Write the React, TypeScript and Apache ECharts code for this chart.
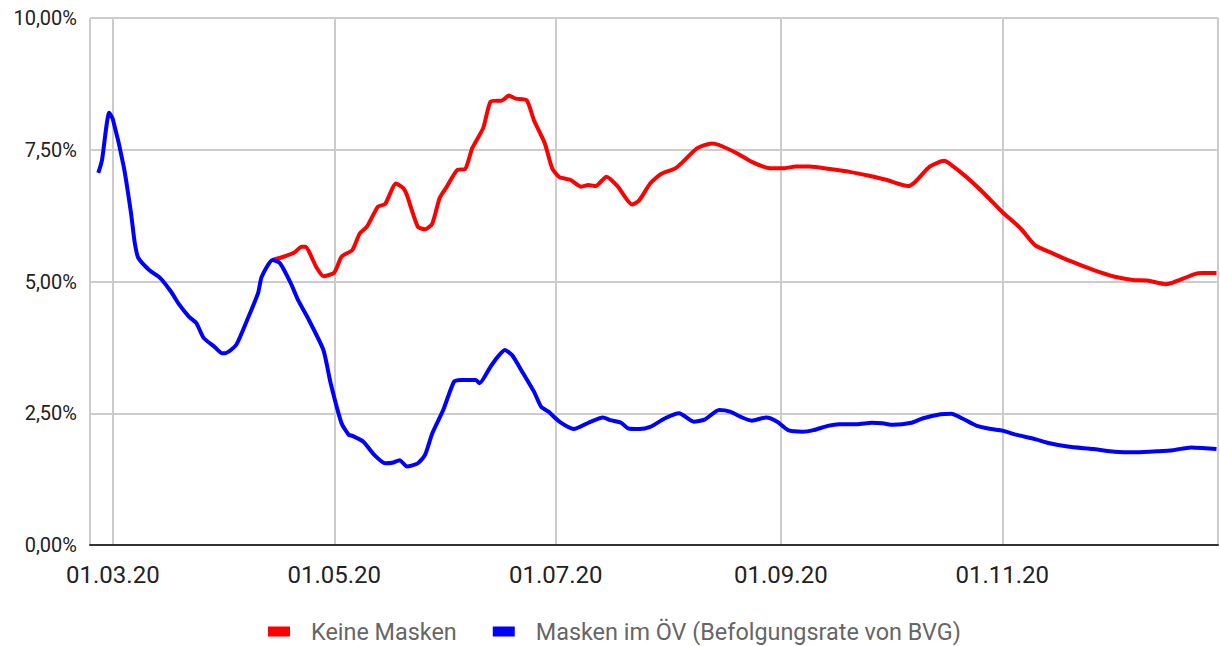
import React, { useEffect, useRef } from "react";
import * as echarts from "echarts";

const seriesNames = ["Keine Masken", "Masken im ÖV (Befolgungsrate von BVG)"];

const blueData: [string, number][] = [
  ["2020-02-26", 7.06], ["2020-02-27", 7.3], ["2020-02-29", 8.2], ["2020-03-01", 8.08],
  ["2020-03-04", 7.18], ["2020-03-06", 6.3], ["2020-03-07", 5.75], ["2020-03-08", 5.45],
  ["2020-03-11", 5.22], ["2020-03-14", 5.07], ["2020-03-17", 4.81], ["2020-03-19", 4.59],
  ["2020-03-22", 4.33], ["2020-03-24", 4.21], ["2020-03-26", 3.93], ["2020-03-29", 3.76],
  ["2020-03-31", 3.64], ["2020-04-01", 3.64], ["2020-04-04", 3.8], ["2020-04-07", 4.27],
  ["2020-04-10", 4.78], ["2020-04-11", 5.09], ["2020-04-14", 5.41], ["2020-04-16", 5.35],
  ["2020-04-19", 4.97], ["2020-04-21", 4.65], ["2020-04-24", 4.27], ["2020-04-28", 3.7],
  ["2020-04-30", 3.07], ["2020-05-03", 2.31], ["2020-05-05", 2.09], ["2020-05-06", 2.07],
  ["2020-05-09", 1.96], ["2020-05-12", 1.71], ["2020-05-15", 1.55], ["2020-05-17", 1.56],
  ["2020-05-19", 1.61], ["2020-05-21", 1.49], ["2020-05-24", 1.55], ["2020-05-26", 1.71],
  ["2020-05-28", 2.12], ["2020-05-31", 2.56], ["2020-06-03", 3.1], ["2020-06-05", 3.13],
  ["2020-06-09", 3.13], ["2020-06-10", 3.07], ["2020-06-13", 3.38], ["2020-06-15", 3.57],
  ["2020-06-17", 3.7], ["2020-06-19", 3.6], ["2020-06-22", 3.26], ["2020-06-25", 2.91],
  ["2020-06-27", 2.62], ["2020-06-29", 2.53], ["2020-07-02", 2.34], ["2020-07-06", 2.2],
  ["2020-07-10", 2.32], ["2020-07-14", 2.42], ["2020-07-16", 2.37], ["2020-07-19", 2.32],
  ["2020-07-21", 2.21], ["2020-07-24", 2.2], ["2020-07-27", 2.24], ["2020-07-31", 2.4],
  ["2020-08-04", 2.5], ["2020-08-08", 2.34], ["2020-08-11", 2.38], ["2020-08-15", 2.56],
  ["2020-08-18", 2.53], ["2020-08-21", 2.43], ["2020-08-24", 2.36], ["2020-08-28", 2.42],
  ["2020-08-31", 2.34], ["2020-09-03", 2.18], ["2020-09-07", 2.15], ["2020-09-10", 2.18],
  ["2020-09-14", 2.26], ["2020-09-17", 2.29], ["2020-09-22", 2.29], ["2020-09-26", 2.32],
  ["2020-09-29", 2.31], ["2020-10-02", 2.28], ["2020-10-07", 2.32], ["2020-10-10", 2.4],
  ["2020-10-15", 2.48], ["2020-10-18", 2.49], ["2020-10-21", 2.4], ["2020-10-25", 2.26],
  ["2020-10-29", 2.2], ["2020-11-01", 2.17], ["2020-11-05", 2.09], ["2020-11-10", 2.01],
  ["2020-11-14", 1.93], ["2020-11-19", 1.87], ["2020-11-26", 1.82], ["2020-12-02", 1.77],
  ["2020-12-08", 1.76], ["2020-12-14", 1.78], ["2020-12-18", 1.8], ["2020-12-23", 1.85],
  ["2020-12-26", 1.84], ["2020-12-30", 1.82],
];

const redData: [string, number][] = [
  ["2020-04-14", 5.41], ["2020-04-17", 5.47], ["2020-04-20", 5.55], ["2020-04-22", 5.66],
  ["2020-04-23", 5.66], ["2020-04-26", 5.28], ["2020-04-28", 5.1], ["2020-05-01", 5.17],
  ["2020-05-03", 5.47], ["2020-05-06", 5.6], ["2020-05-08", 5.91], ["2020-05-10", 6.04],
  ["2020-05-13", 6.42], ["2020-05-15", 6.47], ["2020-05-18", 6.86], ["2020-05-20", 6.77],
  ["2020-05-21", 6.64], ["2020-05-24", 6.04], ["2020-05-26", 5.99], ["2020-05-28", 6.1],
  ["2020-05-30", 6.58], ["2020-06-01", 6.8], ["2020-06-04", 7.12], ["2020-06-06", 7.13],
  ["2020-06-08", 7.53], ["2020-06-11", 7.91], ["2020-06-13", 8.41], ["2020-06-15", 8.43],
  ["2020-06-16", 8.43], ["2020-06-17", 8.47], ["2020-06-18", 8.53], ["2020-06-20", 8.47],
  ["2020-06-23", 8.44], ["2020-06-25", 8.06], ["2020-06-28", 7.62], ["2020-06-30", 7.15],
  ["2020-07-02", 6.98], ["2020-07-05", 6.93], ["2020-07-08", 6.8], ["2020-07-10", 6.83],
  ["2020-07-12", 6.81], ["2020-07-15", 6.99], ["2020-07-18", 6.81], ["2020-07-22", 6.46],
  ["2020-07-24", 6.54], ["2020-07-27", 6.86], ["2020-07-30", 7.04], ["2020-08-03", 7.15],
  ["2020-08-05", 7.27], ["2020-08-09", 7.53], ["2020-08-13", 7.62], ["2020-08-15", 7.59],
  ["2020-08-20", 7.43], ["2020-08-24", 7.27], ["2020-08-29", 7.15], ["2020-09-02", 7.15],
  ["2020-09-05", 7.18], ["2020-09-09", 7.18], ["2020-09-15", 7.13], ["2020-09-20", 7.08],
  ["2020-09-25", 7.01], ["2020-09-30", 6.93], ["2020-10-06", 6.81], ["2020-10-08", 6.89],
  ["2020-10-12", 7.18], ["2020-10-16", 7.29], ["2020-10-18", 7.21], ["2020-10-22", 6.99],
  ["2020-10-27", 6.67], ["2020-11-01", 6.32], ["2020-11-06", 6.01], ["2020-11-10", 5.69],
  ["2020-11-15", 5.53], ["2020-11-20", 5.38], ["2020-11-26", 5.22], ["2020-12-02", 5.09],
  ["2020-12-07", 5.03], ["2020-12-11", 5.02], ["2020-12-16", 4.95], ["2020-12-18", 4.98],
  ["2020-12-24", 5.14], ["2020-12-26", 5.16], ["2020-12-30", 5.16],
];

const xMin = "2020-02-23 17:00:00";
const xMax = "2020-12-30 10:00:00";
const yTicks = [0, 2.5, 5, 7.5, 10];

const pad2 = (n: number) => (n < 10 ? "0" + n : "" + n);

export default function App() {
  const ref = useRef<HTMLDivElement>(null);
  useEffect(() => {
    if (!ref.current) return;
    const chart = echarts.init(ref.current, null, { renderer: "svg" });
    chart.setOption({
      animation: false,
      backgroundColor: "#ffffff",
      grid: { left: 90, right: 2, top: 18, bottom: 101, containLabel: false },
      legend: {
        left: 263,
        top: 615,
        itemWidth: 22,
        itemHeight: 10,
        itemGap: 36,
        icon: "rect",
        textStyle: { fontFamily: "Roboto", fontSize: 23.4, color: "#666666", padding: [0, 0, 0, 16] },
        data: seriesNames,
      },
      xAxis: {
        type: "time",
        min: xMin,
        max: xMax,
        minInterval: 61 * 24 * 3600 * 1000,
        maxInterval: 61 * 24 * 3600 * 1000,
        axisLine: { show: true, lineStyle: { color: "#333333", width: 2 } },
        axisTick: { show: false },
        splitLine: { show: true, lineStyle: { color: "#cccccc", width: 2 } },
        axisLabel: {
          fontFamily: "Roboto",
          fontSize: 24,
          color: "#222222",
          margin: 18,
          showMinLabel: false,
          showMaxLabel: false,
          formatter: (v: number) => {
            const d = new Date(v);
            if (d.getDate() !== 1 || d.getHours() !== 0) return "";
            return pad2(d.getDate()) + "." + pad2(d.getMonth() + 1) + "." + String(d.getFullYear()).slice(2);
          },
        },
      },
      yAxis: {
        type: "value",
        min: yTicks[0],
        max: yTicks[yTicks.length - 1],
        interval: 2.5,
        axisLine: { show: false },
        axisTick: { show: false },
        splitLine: { show: true, lineStyle: { color: "#cccccc", width: 2 } },
        axisLabel: {
          fontFamily: "Roboto",
          fontSize: 20,
          color: "#222222",
          margin: 13,
          formatter: (v: number) => v.toFixed(2).replace(".", ",") + "%",
        },
      },
      series: [
        {
          name: seriesNames[0],
          type: "line",
          data: redData,
          showSymbol: false,
          smooth: 0.2,
          lineStyle: { color: "#ff0000", width: 4 },
          itemStyle: { color: "#ff0000" },
          z: 2,
        },
        {
          name: seriesNames[1],
          type: "line",
          data: blueData,
          showSymbol: false,
          smooth: 0.2,
          lineStyle: { color: "#0000ff", width: 4 },
          itemStyle: { color: "#0000ff" },
          z: 3,
        },
      ],
    });
    return () => chart.dispose();
  }, []);
  return (
    <div
      ref={ref}
      style={{ position: "fixed", left: 0, top: 0, width: 1220, height: 646, background: "#fff" }}
    />
  );
}
